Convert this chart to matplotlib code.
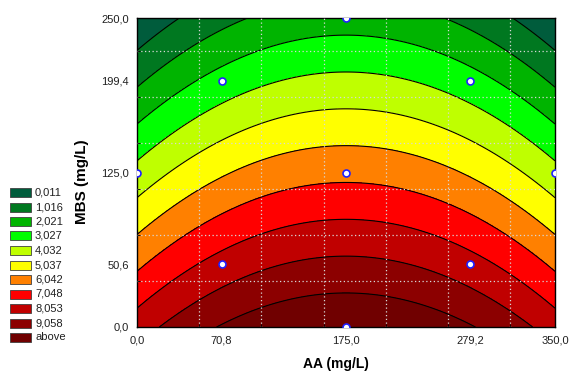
import numpy as np
import matplotlib
matplotlib.use("Agg")
import matplotlib.pyplot as plt
from matplotlib.patches import Rectangle

plt.rcParams['font.family'] = ['Liberation Sans', 'DejaVu Sans']

# fitted quadratic surface (coded units)
aa_center, aa_step = 175.0, 104.2
mbs_center, mbs_step = 125.0, 74.4
b0 = 5.77        # intercept
b_mbs = -2.51    # linear MBS
b_aa2 = -0.86    # quadratic AA

# design points
aa_pts = [0.0, 350.0, 175.0, 175.0, 70.8, 279.2, 70.8, 279.2, 175.0]
mbs_pts = [125.0, 125.0, 0.0, 250.0, 50.6, 50.6, 199.4, 199.4, 125.0]

levels = [0.011, 1.016, 2.021, 3.027, 4.032, 5.037, 6.042, 7.048, 8.053, 9.058]
level_labels = ['0,011', '1,016', '2,021', '3,027', '4,032', '5,037',
                '6,042', '7,048', '8,053', '9,058', 'above']
colors = ['#005c3c', '#007820', '#00b400', '#00ff00', '#bfff00', '#ffff00',
          '#ff8000', '#ff0000', '#c00000', '#8c0000', '#700000']

xticks = [0.0, 70.8, 175.0, 279.2, 350.0]
xtick_labels = ['0,0', '70,8', '175,0', '279,2', '350,0']
yticks = [0.0, 50.6, 125.0, 199.4, 250.0]
ytick_labels = ['0,0', '50,6', '125,0', '199,4', '250,0']

aa = np.linspace(0, 350, 300)
mbs = np.linspace(0, 250, 300)
X, Y = np.meshgrid(aa, mbs)
u = (X - aa_center) / aa_step
v = (Y - mbs_center) / mbs_step
Z = b0 + b_mbs * v + b_aa2 * u ** 2

fig = plt.figure(figsize=(5.74, 3.74), dpi=100)
ax = fig.add_axes([137 / 574, 47 / 374, 418 / 574, 309 / 374])

bounds = [-100] + levels + [100]
ax.contourf(X, Y, Z, levels=bounds, colors=colors)
ax.contour(X, Y, Z, levels=levels, colors='black', linewidths=0.8)

ax.plot(aa_pts, mbs_pts, 'o', ms=5, mfc='white', mec='#2020ff', mew=1.2,
        clip_on=True, zorder=5)

ax.set_xlim(0, 350)
ax.set_ylim(0, 250)
ax.set_xticks(xticks)
ax.set_xticklabels(xtick_labels)
ax.set_yticks(yticks)
ax.set_yticklabels(ytick_labels)
ax.set_xticks([aa_step / 2 * k for k in range(1, 7)], minor=True)
ax.set_yticks([mbs_step / 2 * k for k in range(1, 7)], minor=True)
ax.tick_params(which='major', length=0, labelsize=8, pad=6, colors='#202020')
ax.tick_params(which='minor', length=2, direction='in')
ax.grid(which='minor', color='#d8d8d8', linestyle=(0, (1, 2)), linewidth=0.9)
ax.set_axisbelow(False)
for s in ax.spines.values():
    s.set_linewidth(1.0)

ax.set_xlabel('AA (mg/L)', fontsize=10, fontweight='bold')
ax.xaxis.set_label_coords(0.475, -0.098)
ax.set_ylabel('MBS (mg/L)', fontsize=11, fontweight='bold')
ax.yaxis.set_label_coords(-0.115, 0.47)

# legend
for i, (lab, c) in enumerate(zip(level_labels, colors)):
    yc = 1 - (192.5 + 14.5 * i) / 374
    fig.add_artist(Rectangle((10 / 574, yc - 4.5 / 374), 21 / 574, 9 / 374,
                             transform=fig.transFigure, facecolor=c,
                             edgecolor='#404040', linewidth=0.6))
    fig.text(35 / 574, yc, lab, fontsize=8, va='center', ha='left', color='#202020')

fig.savefig('out.png', dpi=100)
